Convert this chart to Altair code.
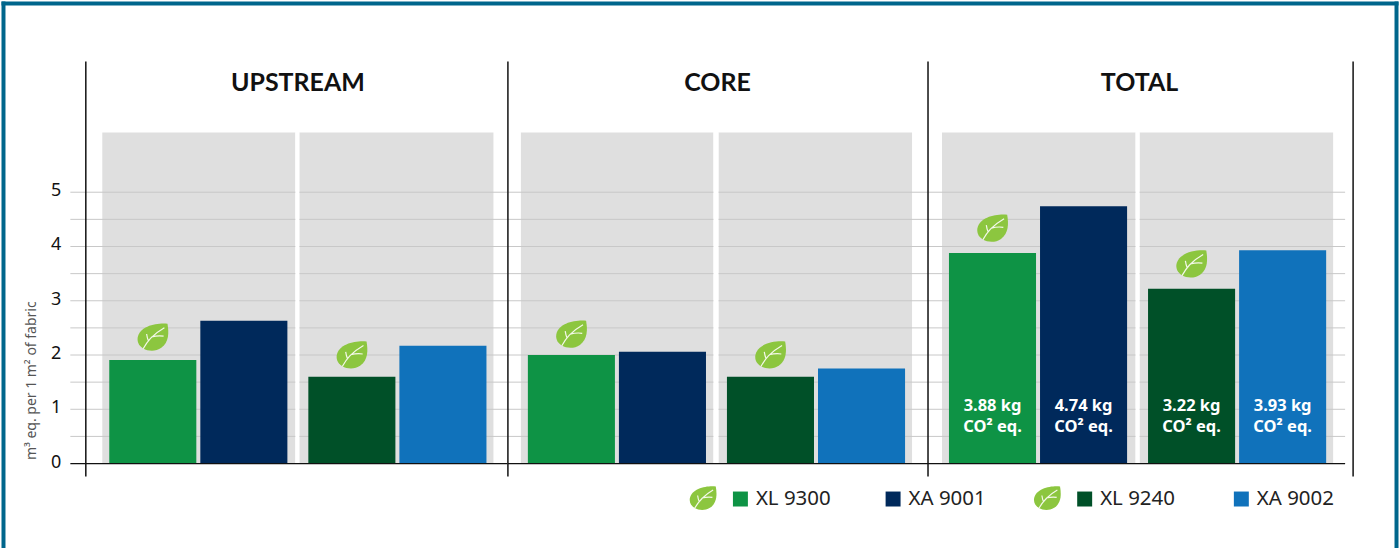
import altair as alt
import pandas as pd

# Chart content
stages = ["UPSTREAM", "CORE", "TOTAL"]
pairs = ["XL 9300 / XA 9001", "XL 9240 / XA 9002"]
products = ["XL 9300", "XA 9001", "XL 9240", "XA 9002"]
pair_of_product = [pairs[0], pairs[0], pairs[1], pairs[1]]
kinds = ["eco", "standard", "eco", "standard"]
upstream_values = [1.91, 2.63, 1.60, 2.17]
core_values = [2.00, 2.06, 1.60, 1.75]
total_values = [3.88, 4.74, 3.22, 3.93]
major_ticks = [0, 1, 2, 3, 4, 5]
grid_levels = [0.5, 1, 1.5, 2, 2.5, 3, 3.5, 4, 4.5, 5]
backdrop_top = 6.1
value_title = "m³ eq. per 1 m² of fabric"

# Styling
colors = ["#0E9345", "#00295B", "#005028", "#1072BB"]
FONT = "Noto Sans"
HEAD_FONT = "Lato"
FRAME = "#00668C"
BACKDROP = "#DFDFDF"
GRID = "#C8C8C8"
LEAF = "#8CC63F"
VEIN = "#F4F8EA"
INK = "#111111"
HEIGHT = 416
LEAF_BODY = ("M0.95,-0.86 C0.3,-0.93 -0.85,-0.74 -0.98,0.05 C-1.02,0.37 -0.85,0.6 -0.62,0.74 "
             "C-0.3,0.93 0.2,0.95 0.55,0.7 C1.05,0.33 1.05,-0.28 0.95,-0.86 Z")
LEAF_VEINS = ("M-0.62,0.76 C-0.35,0.28 -0.05,-0.14 0.75,-0.6 "
              "M-0.28,0.26 C-0.35,0.09 -0.38,-0.05 -0.4,-0.19 "
              "M-0.08,0.0 C0.2,-0.07 0.45,-0.09 0.7,-0.05")

# Per-panel layout: margins around the bars, backdrop spans and icon nudges
panel_layout = {
    "UPSTREAM": dict(width=422.5, pad=(23.5, 21), back=[(16.5, 210), (214, 408.5)], head=212.5,
                     leaf=[(2, -23), (-2.5, -22)]),
    "CORE": dict(width=421, pad=(20, 23), back=[(13, 206), (211, 405)], head=210,
                 leaf=[(5.5, -21), (4, -22)]),
    "TOTAL": dict(width=418, pad=(21, 19), back=[(14, 208), (212, 406)], head=212,
                  leaf=[(0, -25), (-3, -25)]),
}

y_scale = alt.Scale(domain=[-0.24, 7.41], nice=False, zero=False)
no_axis_y = alt.Y("v:Q", scale=y_scale, axis=None)
one_row = pd.DataFrame({"v": [0]})
backdrop_row = pd.DataFrame({"top": [backdrop_top], "bottom": [0]})


def build_panel(stage, values, labelled, first):
    lay = panel_layout[stage]
    table = pd.DataFrame({
        "pair": pair_of_product, "product": products, "kind": kinds, "value": values,
        "floor": [0] * 4,
        "label": [f"{v:.2f} kg\nCO² eq." for v in values],
    })
    left, right = lay["pad"]
    step = (lay["width"] - left - right + 21) / 2
    x_bars = alt.X("pair:N", axis=None, scale=alt.Scale(
        domain=pairs, paddingInner=21 / step, paddingOuter=(left + right) / 2 / step,
        align=left / (left + right)))
    offset = alt.XOffset("kind:N", scale=alt.Scale(
        domain=["eco", "standard"], paddingInner=4 / 91, paddingOuter=0))

    # Grey backdrop behind each pair of bars
    layers = []
    for x0, x1 in lay["back"]:
        layers.append(alt.Chart(backdrop_row).mark_rect(color=BACKDROP).encode(
            x=alt.value(x0), x2=alt.value(x1),
            y=alt.Y("top:Q", scale=y_scale, axis=None), y2="bottom:Q"))

    grid = alt.Chart(pd.DataFrame({"v": grid_levels})).mark_rule(color=GRID, strokeWidth=1).encode(
        y=no_axis_y, x=alt.value(-15.5 if first else 0), x2=alt.value(lay["width"]))

    # White gap between the two backdrops cuts through the grid lines
    gap_x = (lay["back"][0][1] + lay["back"][1][0]) / 2
    gap_w = lay["back"][1][0] - lay["back"][0][1]
    separator = alt.Chart(one_row).mark_rule(color="white", strokeWidth=gap_w).encode(
        x=alt.value(gap_x), y=alt.value(71), y2=alt.value(403))

    bars = alt.Chart(table).mark_bar().encode(
        x=x_bars, xOffset=offset,
        y=alt.Y("value:Q", scale=y_scale, axis=None), y2="floor:Q",
        color=alt.Color("product:N", scale=alt.Scale(domain=products, range=colors), legend=None),
    )

    layers += [grid, separator, bars]

    # Leaf icons sit above the eco bars
    for name, (dx, dy) in zip([products[0], products[2]], lay["leaf"]):
        base = alt.Chart(table).transform_filter(alt.datum.product == name)
        enc = dict(x=x_bars, xOffset=offset, y=alt.Y("value:Q", scale=y_scale, axis=None))
        layers.append(base.mark_point(shape=LEAF_BODY, size=961, filled=True, color=LEAF, opacity=1,
                                      xOffset=dx, yOffset=dy).encode(**enc))
        layers.append(base.mark_point(shape=LEAF_VEINS, size=961, filled=False, stroke=VEIN,
                                      strokeWidth=1.2, opacity=1, xOffset=dx, yOffset=dy).encode(**enc))

    # Two-line value label near the foot of each bar
    if labelled:
        layers.append(alt.Chart(table).mark_text(
            font=FONT, fontSize=16.5, fontWeight="bold", color="white", baseline="middle",
            lineBreak="\n", lineHeight=21, dy=-58
        ).encode(x=x_bars, xOffset=offset, y=alt.Y("floor:Q", scale=y_scale, axis=None), text="label:N"))

    baseline = alt.Chart(one_row).mark_rule(color=INK, strokeWidth=1.3).encode(
        y=no_axis_y, x=alt.value(-15.5 if first else 0), x2=alt.value(lay["width"]))
    divider = alt.Chart(one_row).mark_rule(color=INK, strokeWidth=1.5).encode(
        x=alt.value(0), y=alt.value(0), y2=alt.value(HEIGHT))
    heading = alt.Chart(pd.DataFrame({"stage": [stage]})).mark_text(
        font=HEAD_FONT, fontSize=25, fontWeight="bold", color=INK, baseline="middle"
    ).encode(x=alt.value(lay["head"]), y=alt.value(22), text="stage:N")
    layers += [baseline, divider, heading]

    if stage == "TOTAL":
        layers.append(alt.Chart(one_row).mark_rule(color=INK, strokeWidth=1.5).encode(
            x=alt.value(426), y=alt.value(0), y2=alt.value(HEIGHT)))

    if first:
        layers += value_scale_layers() + frame_layers() + legend_layers()

    return alt.layer(*layers).properties(width=lay["width"], height=HEIGHT)


def value_scale_layers():
    # Tick numbers and the rotated title of the value scale
    numbers = alt.Chart(pd.DataFrame({"v": major_ticks})).mark_text(
        font=FONT, fontSize=18, color=INK, align="right", baseline="middle", dy=-1
    ).encode(y=no_axis_y, x=alt.value(-24.5), text=alt.Text("v:Q", format="d"))
    title = alt.Chart(pd.DataFrame({"t": [value_title]})).mark_text(
        font=FONT, fontSize=14, color="#555555", angle=270, align="center", baseline="alphabetic"
    ).encode(x=alt.value(-49.5), y=alt.value(320), text="t:N")
    return [numbers, title]


def frame_layers():
    # Teal border on the top, left and right of the canvas
    rule = alt.Chart(one_row).mark_rule(color=FRAME, strokeWidth=4, strokeCap="square")
    return [
        rule.encode(x=alt.value(-82.5), y=alt.value(-58), y2=alt.value(486)),
        rule.encode(x=alt.value(1313.5), y=alt.value(-58), y2=alt.value(486)),
        rule.encode(y=alt.value(-58), x=alt.value(-82.5), x2=alt.value(1313.5)),
    ]


def legend_layers():
    # Hand-spaced legend row: the eco entries carry a leaf in front of the swatch
    slots = [(656, True), (809, False), (1001, True), (1158, False)]
    row_y = 438.5
    out = []
    for name, color, (sx, has_leaf) in zip(products, colors, slots):
        entry = alt.Chart(pd.DataFrame({"product": [name]}))
        out.append(entry.mark_square(size=225, color=color, opacity=1).encode(
            x=alt.value(sx), y=alt.value(row_y)))
        out.append(entry.mark_text(font=FONT, fontSize=20.5, color="#222222", align="left", baseline="middle").encode(
            x=alt.value(sx + 15.5), y=alt.value(row_y), text="product:N"))
        if has_leaf:
            out.append(entry.mark_point(shape=LEAF_BODY, size=729, filled=True, color=LEAF, opacity=1).encode(
                x=alt.value(sx - 37.5), y=alt.value(row_y - 1)))
            out.append(entry.mark_point(shape=LEAF_VEINS, size=729, filled=False, stroke=VEIN,
                                        strokeWidth=1.2, opacity=1).encode(
                x=alt.value(sx - 37.5), y=alt.value(row_y - 1)))
    return out


panels = [
    build_panel(stages[0], upstream_values, False, True),
    build_panel(stages[1], core_values, False, False),
    build_panel(stages[2], total_values, True, False),
]

# Each panel sizes its own pair bands, so the offset scales cannot be shared
chart = alt.hconcat(*panels, spacing=0).resolve_scale(xOffset="independent").properties(
    padding=0, background="white", bounds="flush"
).configure_view(stroke=None)

chart.save("out.html", embed_options={"renderer": "svg", "actions": False})
